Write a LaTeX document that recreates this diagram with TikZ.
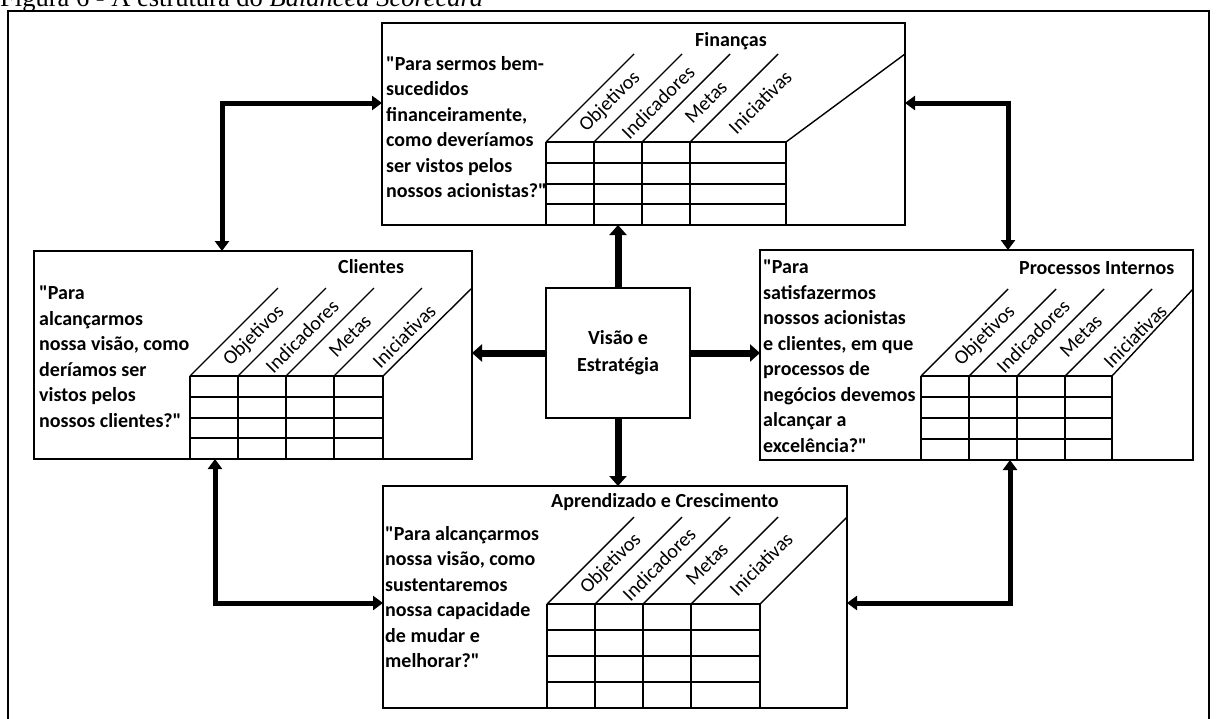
\documentclass[tikz,border=0pt]{standalone}
\usepackage{fontspec}
\setmainfont{Carlito}[Ligatures=TeXOff]
\newfontfamily\capfont{Liberation Serif}
\usetikzlibrary{arrows.meta}

% straight double quote
\newcommand\dq{\symbol{34}}

% One scorecard table: columns, rows, slanted header lines and header labels
% #1 left x, #2 right x of table, #3 top y, #4 bottom y, #5 rise of slant, #6 right x of box
\newcommand\scoretable[6]{%
  \foreach \i in {0,1,2,3} {\draw[gridline] ({#1+48*\i},#3) -- ({#1+48*\i},#4);}
  \draw[gridline] (#2,#3) -- (#2,#4);
  \foreach \k in {0,1,2,3} {\draw[gridline] (#1,{#3+(#4-#3)*\k/4}) -- (#2,{#3+(#4-#3)*\k/4});}
  \foreach \i in {0,1,2,3} {\draw[slant] ({#1+48*\i},#3) -- ++(#5,-#5);}
  \draw[slant] (#2,#3) -- (#6,{#3-#5});
  \node[colhead] at ({#1+24+40},{#3-40}) {Objetivos};
  \node[colhead] at ({#1+72+40},{#3-40}) {Indicadores};
  \node[colhead] at ({#1+120+40},{#3-40}) {Metas};
  \node[colhead] at ({#1+144+30+40},{#3-40}) {Iniciativas};
}

\begin{document}
\begin{tikzpicture}[x=1pt,y=-1pt,
  box/.style={draw, line width=2.4pt, inner sep=0pt, outer sep=0pt, anchor=north west},
  gridline/.style={line width=2pt},
  slant/.style={line width=1.4pt},
  qtext/.style={anchor=north west, align=left, inner sep=0pt, font=\bfseries\fontsize{20}{25.5}\selectfont},
  ttl/.style={anchor=base west, inner sep=0pt, font=\bfseries\fontsize{20}{24}\selectfont},
  colhead/.style={rotate=45, inner sep=0pt, font=\fontsize{20}{22}\selectfont},
  mainarrow/.style={line width=7pt, -{Triangle[width=17pt,length=10pt]}},
  link/.style={line width=5pt, {Triangle[width=14pt,length=10pt]}-{Triangle[width=14pt,length=10pt]}},
]
\useasboundingbox (0,0) rectangle (1216,718);
\clip (0,0) rectangle (1216,718);

% caption line above the frame
\node[anchor=base west, inner sep=0pt, font=\capfont\fontsize{26.5}{30}\selectfont] (cap) at (0,6)
  {Figura 6 - A estrutura do \textit{Balanced Scorecard}};

% outer frame
\draw[line width=2pt] (8,740) -- (8,11) -- (1209,11) -- (1209,740);

% the four perspectives and the centre
\node[box, minimum width=523, minimum height=202] (fin) at (382,23) {};
\node[box, minimum width=438, minimum height=208] (cli) at (34,251) {};
\node[box, minimum width=433, minimum height=210] (pro) at (760,250) {};
\node[box, minimum width=464, minimum height=222] (apr) at (383,486) {};
\node[box, minimum width=144, minimum height=130, align=center,
      font=\bfseries\fontsize{20}{27}\selectfont] (vis) at (546,288) {Visão e\\Estratégia};

% titles
\node[ttl] (tfin) at (695,46) {Finanças};
\node[ttl] (tcli) at (338,273) {Clientes};
\node[ttl] (tpro) at (1019,274) {Processos Internos};
\node[ttl] (tapr) at (551,507) {Aprendizado e Crescimento};

% questions
\node[qtext] (qfin) at (386,56) {\dq Para sermos bem-\\sucedidos\\financeiramente,\\como deveríamos\\ser vistos pelos\\nossos acionistas?\dq};
\node[qtext] (qcli) at (39,286) {\dq Para\\alcançarmos\\nossa visão, como\\deríamos ser\\vistos pelos\\nossos clientes?\dq};
\node[qtext] (qpro) at (763,260) {\dq Para\\satisfazermos\\nossos acionistas\\e clientes, em que\\processos de\\negócios devemos\\alcançar a\\excelência?\dq};
\node[qtext] (qapr) at (385,526) {\dq Para alcançarmos\\nossa visão, como\\sustentaremos\\nossa capacidade\\de mudar e\\melhorar?\dq};

% tables
\scoretable{546}{786}{142}{225}{88}{905}
\scoretable{190}{383}{376}{459}{88}{472}
\scoretable{921}{1112}{376}{460}{87}{1193}
\scoretable{547}{760}{604}{708}{87}{847}

% arrows from the centre
\draw[mainarrow] (vis.north) -- (vis.north |- fin.south);
\draw[mainarrow] (vis.west) -- (vis.west -| cli.east);
\draw[mainarrow] (vis.east) -- (vis.east -| pro.west);
\draw[mainarrow] (vis.south) -- (vis.south |- apr.north);

% links between neighbouring perspectives
\coordinate (tl) at (222,103);
\coordinate (tr) at (1008,103);
\coordinate (bl) at (215,603);
\coordinate (br) at (1010,603);
\draw[link] (cli.north -| tl) |- (fin.west |- tl);
\draw[link] (fin.east |- tr) -| (pro.north -| tr);
\draw[link] (cli.south -| bl) |- (apr.west |- bl);
\draw[link] (apr.east |- br) -| (pro.south -| br);
\end{tikzpicture}
\end{document}
